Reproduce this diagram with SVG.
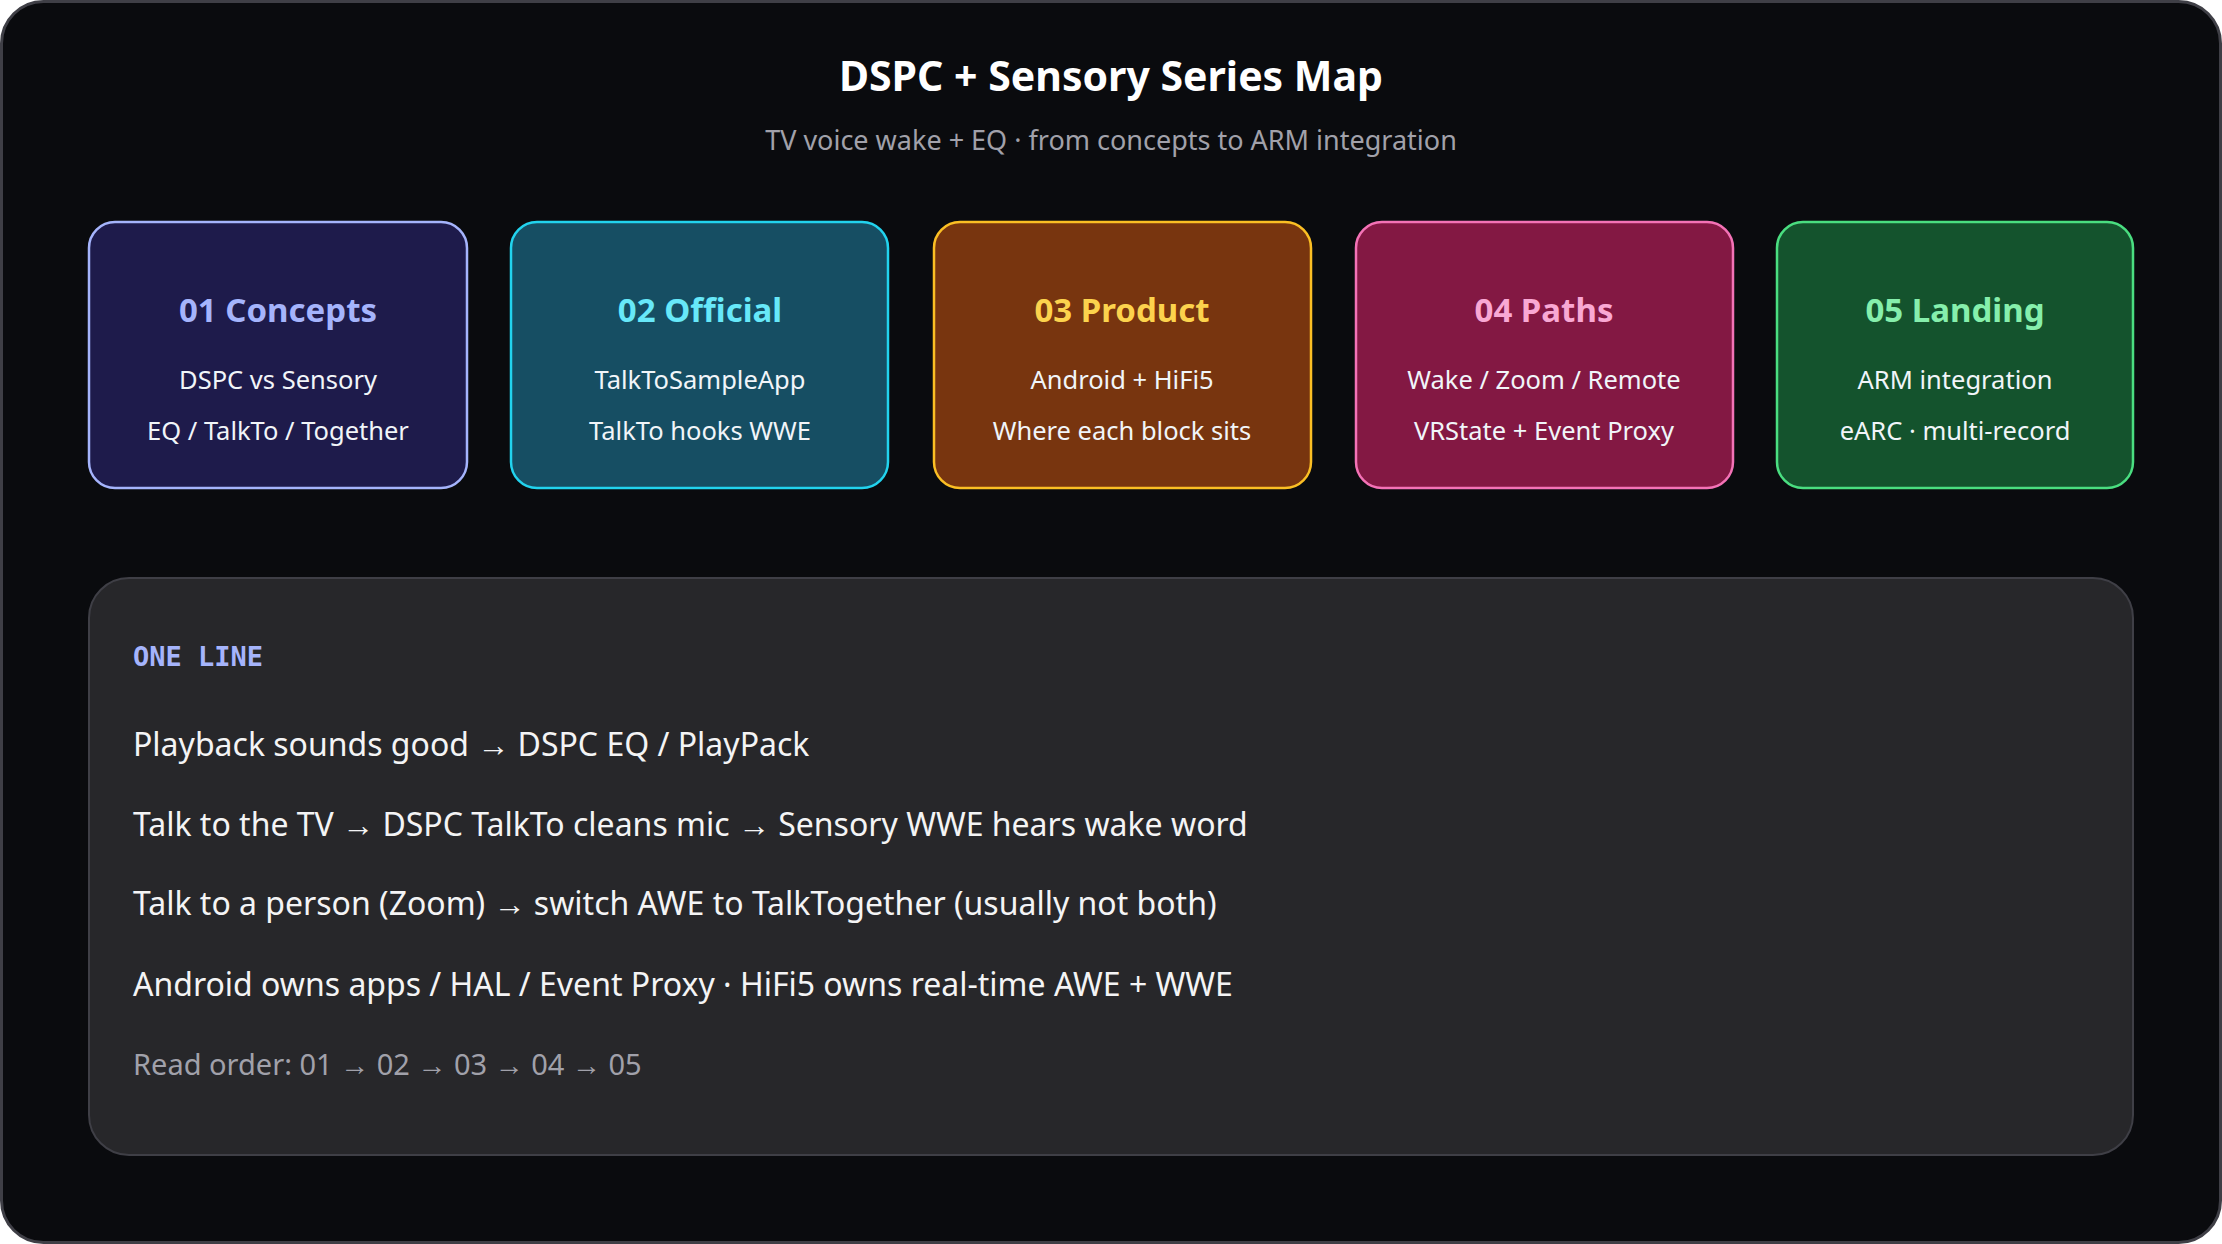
<svg xmlns="http://www.w3.org/2000/svg" width="2222" height="1244" viewBox="0 0 2222 1244">
<style>
text{font-family:"Noto Sans","Open Sans",sans-serif}
.t{font-size:33px;font-weight:bold;text-anchor:middle}
.l{font-size:25.5px;fill:#f1f5f9;text-anchor:middle}
.m{font-size:32px;fill:#f4f4f5}
.card{stroke-width:2.5}
.mono{font-family:"DejaVu Sans Mono","Liberation Mono",monospace}
</style>
<rect x="1.5" y="1.5" width="2219" height="1241" rx="42" fill="#0a0b0e" stroke="#3f3f46" stroke-width="3"/>
<text x="1111" y="91" text-anchor="middle" font-size="41" font-weight="bold" fill="#ffffff">DSPC + Sensory Series Map</text>
<text x="1111" y="150" text-anchor="middle" font-size="27" fill="#a1a1aa">TV voice wake + EQ · from concepts to ARM integration</text>
<g id="n1"><rect class="card" x="89" y="222" width="378" height="266" rx="26" fill="#1e1b4b" stroke="#a5b4fc"/>
<text class="t" x="278" y="322" fill="#a5b4fc">01 Concepts</text>
<text class="l" x="278" y="389">DSPC vs Sensory</text><text class="l" x="278" y="440">EQ / TalkTo / Together</text></g>
<g id="n2"><rect class="card" x="511" y="222" width="377" height="266" rx="26" fill="#164e63" stroke="#22d3ee"/>
<text class="t" x="700" y="322" fill="#67e8f9">02 Official</text>
<text class="l" x="700" y="389">TalkToSampleApp</text><text class="l" x="700" y="440">TalkTo hooks WWE</text></g>
<g id="n3"><rect class="card" x="934" y="222" width="377" height="266" rx="26" fill="#78350f" stroke="#fbbf24"/>
<text class="t" x="1122" y="322" fill="#fcd34d">03 Product</text>
<text class="l" x="1122" y="389">Android + HiFi5</text><text class="l" x="1122" y="440">Where each block sits</text></g>
<g id="n4"><rect class="card" x="1356" y="222" width="377" height="266" rx="26" fill="#831843" stroke="#f472b6"/>
<text class="t" x="1544" y="322" fill="#f9a8d4">04 Paths</text>
<text class="l" x="1544" y="389">Wake / Zoom / Remote</text><text class="l" x="1544" y="440">VRState + Event Proxy</text></g>
<g id="n5"><rect class="card" x="1777" y="222" width="356" height="266" rx="26" fill="#14532d" stroke="#4ade80"/>
<text class="t" x="1955" y="322" fill="#86efac">05 Landing</text>
<text class="l" x="1955" y="389">ARM integration</text><text class="l" x="1955" y="440">eARC · multi-record</text></g>
<g id="connectors"></g>
<g id="panel"><rect x="89" y="578" width="2044" height="577" rx="40" fill="#27272a" stroke="#3f3f46" stroke-width="2"/>
<text class="mono" x="133" y="666" font-size="27" font-weight="bold" fill="#a5b4fc">ONE LINE</text>
<text class="m" x="133" y="756">Playback sounds good → DSPC EQ / PlayPack</text>
<text class="m" x="133" y="836">Talk to the TV → DSPC TalkTo cleans mic → Sensory WWE hears wake word</text>
<text class="m" x="133" y="915">Talk to a person (Zoom) → switch AWE to TalkTogether (usually not both)</text>
<text class="m" x="133" y="996">Android owns apps / HAL / Event Proxy · HiFi5 owns real-time AWE + WWE</text>
<text x="133" y="1075" font-size="29" fill="#a1a1aa">Read order: 01 → 02 → 03 → 04 → 05</text></g>
</svg>
